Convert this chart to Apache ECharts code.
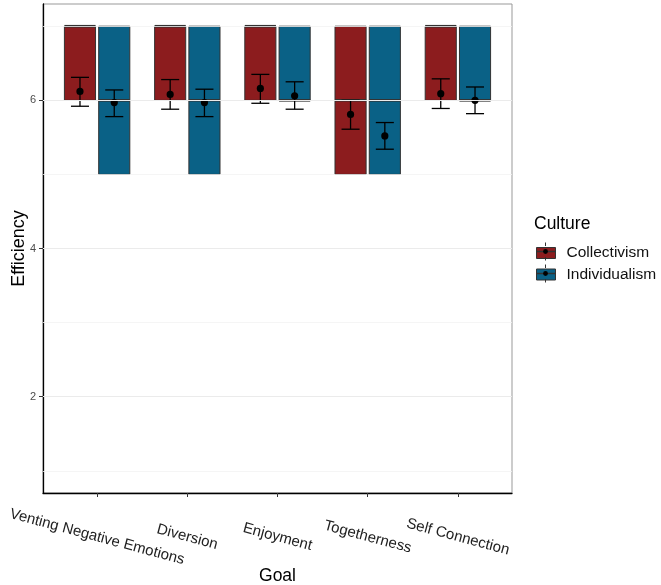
<!DOCTYPE html>
<html>
<head>
<meta charset="utf-8">
<script src="https://cdn.jsdelivr.net/npm/echarts@6/dist/echarts.min.js"></script>
<style>html,body{margin:0;padding:0;background:#fff}#c{width:661px;height:585px}</style>
</head>
<body>
<div id="c"></div>
<script>
// ---- data ----
const goals = ['Venting Negative Emotions', 'Diversion', 'Enjoyment', 'Togetherness', 'Self Connection'];
const groups = ['Collectivism', 'Individualism'];
// box stats per goal: [Q1, median, Q3]
const collBox = [[6, 7, 7], [6, 7, 7], [6, 7, 7], [5, 6, 7], [6, 7, 7]];
const indivBox = [[5, 6, 7], [5, 6, 7], [6, 6, 7], [5, 6, 7], [6, 6, 7]];
// means and error bar limits
const collMean = [6.12, 6.08, 6.16, 5.81, 6.09];
const collLow = [5.92, 5.88, 5.96, 5.61, 5.89];
const collHigh = [6.31, 6.28, 6.35, 6.00, 6.29];
const indivMean = [5.97, 5.97, 6.06, 5.52, 6.00];
const indivLow = [5.78, 5.78, 5.88, 5.34, 5.82];
const indivHigh = [6.14, 6.15, 6.25, 5.70, 6.18];
const yTicks = [2, 4, 6];
const yMinor = [1, 3, 5, 7];
const colors = ['#8C1C1E', '#0A6186'];

const OFF = 0.19, BW = 0.345, CAP = 0.2;

function boxSeries(name, box, side, color) {
  return {
    name: name, type: 'custom', z: 2,
    itemStyle: { color: color },
    data: box.map((b, i) => [i, b[0], b[1], b[2]]),
    renderItem: function (params, api) {
      const x = api.value(0) + side * OFF;
      const band = api.size([1, 0])[0];
      const w = BW * band;
      const top = api.coord([x, api.value(3)]);
      const bot = api.coord([x, api.value(1)]);
      const med = api.coord([x, api.value(2)]);
      return {
        type: 'group', children: [
          { type: 'rect', shape: { x: top[0] - w / 2, y: top[1], width: w, height: bot[1] - top[1] },
            style: { fill: color, stroke: '#333333', lineWidth: 1 } },
          { type: 'line', shape: { x1: med[0] - w / 2, y1: med[1], x2: med[0] + w / 2, y2: med[1] },
            style: { stroke: '#333333', lineWidth: 2.6 } }
        ]
      };
    }
  };
}
function errSeries(name, mean, low, high, side) {
  return {
    name: name + ' mean', type: 'custom', z: 3,
    data: mean.map((m, i) => [i, m, low[i], high[i]]),
    renderItem: function (params, api) {
      const x = api.value(0) + side * OFF;
      const band = api.size([1, 0])[0];
      const c = CAP * band;
      const p = api.coord([x, api.value(1)]);
      const lo = api.coord([x, api.value(2)]);
      const hi = api.coord([x, api.value(3)]);
      const st = { stroke: '#000', lineWidth: 1.3 };
      return {
        type: 'group', children: [
          { type: 'line', shape: { x1: p[0], y1: lo[1], x2: p[0], y2: hi[1] }, style: st },
          { type: 'line', shape: { x1: p[0] - c / 2, y1: lo[1], x2: p[0] + c / 2, y2: lo[1] }, style: st },
          { type: 'line', shape: { x1: p[0] - c / 2, y1: hi[1], x2: p[0] + c / 2, y2: hi[1] }, style: st },
          { type: 'circle', shape: { cx: p[0], cy: p[1], r: 3.6 }, style: { fill: '#000' } }
        ]
      };
    }
  };
}

const gridSeries = {
  type: 'line', data: [], z: 0, silent: true,
  markLine: {
    silent: true, symbol: 'none', label: { show: false },
    data: yTicks.map(v => ({ yAxis: v, lineStyle: { color: '#EBEBEB', width: 1, type: 'solid' } }))
      .concat(yMinor.map(v => ({ yAxis: v, lineStyle: { color: '#F2F2F2', width: 0.8, type: 'solid' } })))
  }
};

// legend key decorations (whisker, median, mean dot)
const keyX = 545.5, keyY = [251.5, 273.5];
const keyGraphics = [];
keyY.forEach(cy => {
  keyGraphics.push(
    { type: 'line', z: 100, shape: { x1: keyX, y1: cy - 9, x2: keyX, y2: cy - 5.5 }, style: { stroke: '#333', lineWidth: 1 } },
    { type: 'line', z: 100, shape: { x1: keyX, y1: cy + 5.5, x2: keyX, y2: cy + 9 }, style: { stroke: '#333', lineWidth: 1 } },
    { type: 'line', z: 100, shape: { x1: keyX - 9.5, y1: cy, x2: keyX + 9.5, y2: cy }, style: { stroke: '#333', lineWidth: 1.5 } },
    { type: 'circle', z: 101, shape: { cx: keyX, cy: cy, r: 2.4 }, style: { fill: '#000' } }
  );
});

const chart = echarts.init(document.getElementById('c'), null, { renderer: 'canvas' });
chart.setOption({
  animation: false,
  title: { text: 'Culture', left: 529, top: 210, textStyle: { fontFamily: 'Liberation Sans', fontSize: 17.5, fontWeight: 'normal', color: '#000' } },
  legend: {
    data: groups.map(g => ({ name: g, icon: 'rect' })),
    orient: 'vertical', left: 531, top: 240, itemWidth: 19, itemHeight: 11, itemGap: 5.5,
    itemStyle: { borderColor: '#333', borderWidth: 1 },
    textStyle: { fontFamily: 'Liberation Sans', fontSize: 15.5, color: '#111', padding: [0, 0, 0, 6] }
  },
  graphic: keyGraphics,
  grid: { left: 43, right: 149, top: 4, bottom: 92, show: true, borderColor: '#999', borderWidth: 1, outerBoundsMode: 'none', containLabel: false },
  xAxis: {
    type: 'value', min: -0.6, max: 4.6,
    name: 'Goal', nameLocation: 'middle', nameGap: 74, nameMoveOverlap: false,
    nameTextStyle: { fontFamily: 'Liberation Sans', fontSize: 17.5, color: '#000', verticalAlign: 'top' },
    axisLine: { show: true, onZero: false, lineStyle: { color: '#000', width: 1.3 } },
    axisTick: { show: true, customValues: [0, 1, 2, 3, 4], length: 4, lineStyle: { color: '#333' } },
    axisLabel: {
      customValues: [0, 1, 2, 3, 4], formatter: v => goals[Math.round(v)],
      rotate: -15, align: 'center', verticalAlign: 'middle', margin: 44,
      fontFamily: 'Liberation Sans', fontSize: 15, color: '#222'
    },
    splitLine: { show: false }
  },
  yAxis: {
    type: 'value', min: 0.7, max: 7.3,
    name: 'Efficiency', nameLocation: 'middle', nameGap: 15, nameMoveOverlap: false,
    nameTextStyle: { fontFamily: 'Liberation Sans', fontSize: 18, color: '#000' },
    axisLine: { show: true, onZero: false, lineStyle: { color: '#000', width: 1.3 } },
    axisTick: { show: true, customValues: yTicks, length: 4, lineStyle: { color: '#333' } },
    axisLabel: { customValues: yTicks, margin: 7, fontFamily: 'Liberation Sans', fontSize: 11, color: '#4D4D4D' },
    splitLine: { show: false }
  },
  series: [
    gridSeries,
    boxSeries(groups[0], collBox, -1, colors[0]),
    boxSeries(groups[1], indivBox, 1, colors[1]),
    errSeries(groups[0], collMean, collLow, collHigh, -1),
    errSeries(groups[1], indivMean, indivLow, indivHigh, 1)
  ]
});
</script>
</body>
</html>
